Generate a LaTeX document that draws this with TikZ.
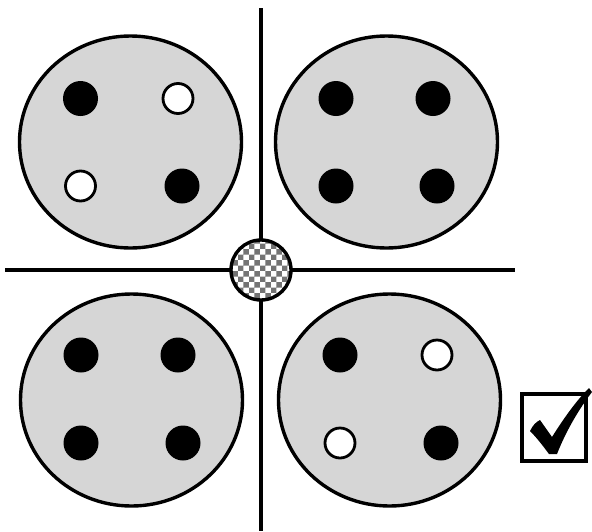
\documentclass[tikz,border=0pt]{standalone}
\usetikzlibrary{shapes.geometric,patterns}
\begin{document}
\begin{tikzpicture}[x=1pt,y=-1pt,
  plate/.style={ellipse,draw=black,line width=3.4pt,fill=black!16,minimum width=222pt,minimum height=212pt,inner sep=0pt},
  bdot/.style={circle,fill=black,minimum size=35pt,inner sep=0pt},
  wdot/.style={circle,draw=black,line width=2.8pt,fill=white,minimum size=30pt,inner sep=0pt},
  axis/.style={line width=3.2pt}]
\useasboundingbox (0,0) rectangle (592,531);
% axes
\coordinate (vt) at (261,8);
\coordinate (vb) at (261,531);
\coordinate (hl) at (5,270);
\coordinate (hr) at (515,270);
\draw[axis] (vt) -- (vb);
\draw[axis] (hl) -- (hr);
% plates
\node[plate] (p1) at (130.5,142) {};
\node[plate] (p2) at (386.5,142) {};
\node[plate] (p3) at (131.5,400) {};
\node[plate] (p4) at (389.5,400) {};
% dots plate 1
\node[bdot] (a1) at (80.5,98.5) {};
\node[wdot] (a2) at (178,98.5) {};
\node[wdot] (a3) at (80.5,186) {};
\node[bdot] (a4) at (182,186) {};
% plate 2
\node[bdot] (b1) at (336,98.5) {};
\node[bdot] (b2) at (433,98.5) {};
\node[bdot] (b3) at (336,186) {};
\node[bdot] (b4) at (437,186) {};
% plate 3
\node[bdot] (c1) at (81,355) {};
\node[bdot] (c2) at (178,355) {};
\node[bdot] (c3) at (81,443) {};
\node[bdot] (c4) at (183,443) {};
% plate 4
\node[bdot] (d1) at (340,355) {};
\node[wdot] (d2) at (437,355) {};
\node[wdot] (d3) at (340,443) {};
\node[bdot] (d4) at (441,443) {};
% center
\node[circle,draw=black,line width=3.4pt,preaction={fill=white},pattern=checkerboard,pattern color=black!55,minimum size=60pt,inner sep=0pt] (c) at (261,270) {};
% checkbox
\node[draw=black,line width=3.4pt,fill=white,minimum width=64pt,minimum height=67pt,inner sep=0pt] (box) at (554,427.5) {};
\fill[black] (530,431) .. controls (533,425) and (536,422) .. (540,420) -- (552,437) .. controls (564,418) and (576,401) .. (589,388) -- (592,392) .. controls (579,409) and (566,431) .. (557,454) -- (549,454) .. controls (543,446) and (537,438) .. cycle;
\end{tikzpicture}
\end{document}
